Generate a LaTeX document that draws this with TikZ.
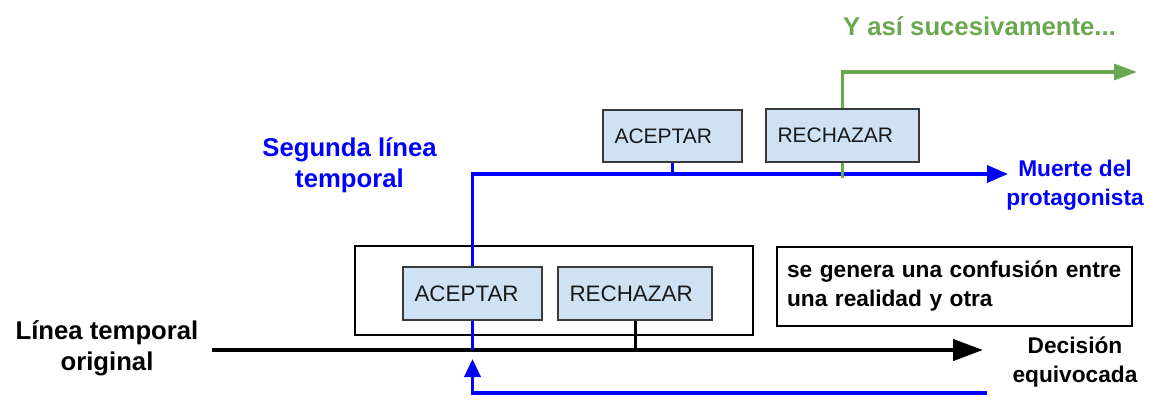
\documentclass[tikz,border=0pt]{standalone}
\usepackage{fontspec}
\setmainfont{Liberation Sans}
\usetikzlibrary{arrows.meta,backgrounds}
\definecolor{tlblue}{RGB}{0,0,255}
\definecolor{tlgreen}{HTML}{6AA84F}
\definecolor{boxfill}{HTML}{CFE2F3}
\definecolor{boxedge}{HTML}{3A3A3A}
\begin{document}
\begin{tikzpicture}[x=1pt,y=-1pt,
  choice/.style={draw=boxedge, fill=boxfill, line width=1.5pt, align=left,
     inner xsep=11.5pt, inner ysep=0pt, text=black!90},
  lowchoice/.style={choice, font=\fontsize{22.4}{26}\selectfont},
  topchoice/.style={choice, font=\fontsize{21}{25}\selectfont},
  biglabel/.style={align=center, font=\fontsize{25.7}{31}\selectfont\bfseries},
  midlabel/.style={align=center, font=\fontsize{22.7}{29.5}\selectfont\bfseries},
  blueline/.style={draw=tlblue, line width=3.5pt},
  greenline/.style={draw=tlgreen, line width=3.5pt},
  blackline/.style={draw=black, line width=3pt},
]
\useasboundingbox (0,0) rectangle (1155,401);

% decision boxes
\node[lowchoice, text width=116pt, minimum height=53pt] (acep1) at (472.5,293.5) {ACEPTAR};
\node[lowchoice, text width=131pt, minimum height=53pt] (rech1) at (635,293.5) {RECHAZAR};
\node[topchoice, text width=116pt, minimum height=52pt] (acep2) at (672.5,136) {ACEPTAR};
\node[topchoice, text width=130pt, minimum height=53pt] (rech2) at (842.5,135.5) {RECHAZAR};

% labels
\node[biglabel] (lto) at (107,348) {Línea temporal\\original};
\node[biglabel, text=tlblue] (seg) at (349.5,165.5) {Segunda línea\\temporal};
\node[biglabel, text=tlgreen, anchor=base] (yasi) at (979.5,36) {Y así sucesivamente...};
\node[midlabel, text=tlblue] (muerte) at (1075,185) {Muerte del\\protagonista};
\node[midlabel] (decision) at (1075,362) {Decisión\\equivocada};
\node[draw, line width=1.5pt, align=left, text width=335pt, inner xsep=10pt,
      minimum height=79pt, font=\fontsize{22.7}{29}\selectfont\bfseries] (nota) at (954.5,286.5)
      {se genera una confusión entre\\una realidad y otra};

% free ends
\coordinate (mainstart) at (212,350);
\coordinate (mainend) at (983,350);
\coordinate (endB) at (1008,174);
\coordinate (endG) at (1137,72);
\coordinate (retstart) at (987,393);
\coordinate (split) at (acep1.south |- mainstart);

\begin{scope}[on background layer]
  \node[draw, line width=2.5pt, minimum width=398pt, minimum height=89pt] (grupo) at (554,290.5) {};
  % original timeline
  \draw[blackline, line width=4.5pt, -{Triangle[length=30pt,width=21pt]}] (mainstart) -- (mainend);
  \draw[blackline] (rech1.south) -- (rech1.south |- mainstart);
  % second timeline
  \draw[blueline, -{Triangle[length=21pt,width=17pt]}] (split) |- (endB);
  \draw[blueline] (acep2.south) -- (acep2.south |- endB);
  \draw[blueline, -{Triangle[length=18pt,width=16pt]}] (retstart) -| ([yshift=-9pt]split);
  % and so on
  \draw[greenline, -{Triangle[length=23pt,width=16pt]}] (rech2.north) |- (endG);
  \draw[greenline] (rech2.south) -- ++(0,15);
\end{scope}
\end{tikzpicture}
\end{document}
